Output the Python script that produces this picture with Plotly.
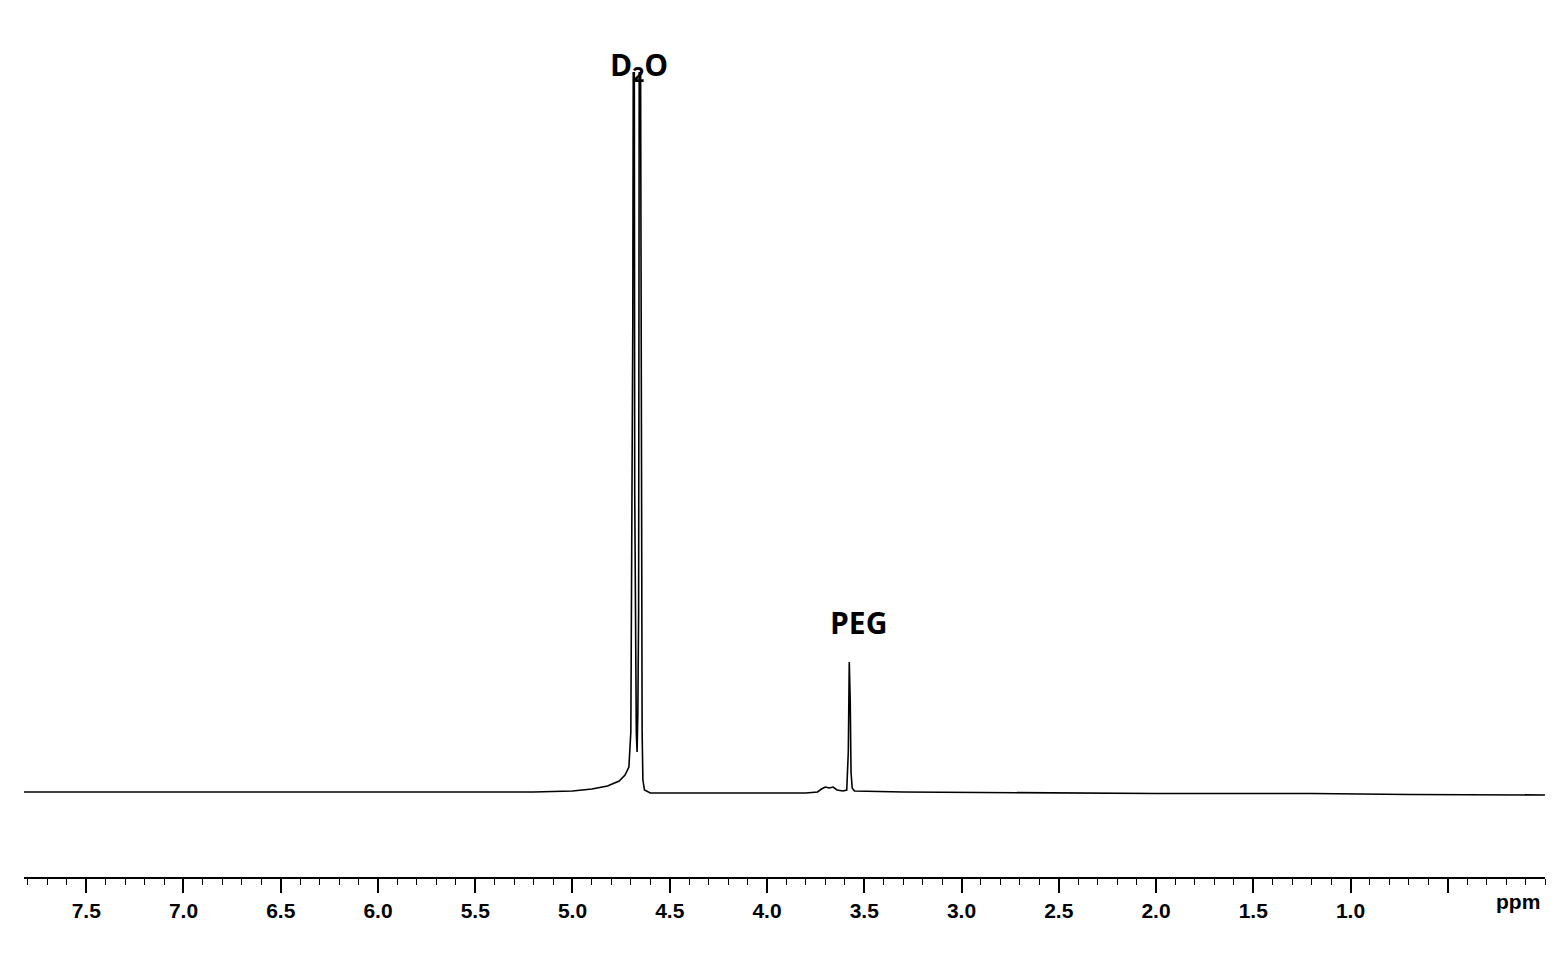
import plotly.graph_objects as go

ppm = [7.82, 7.0, 6.0, 5.2, 5.0, 4.9, 4.82, 4.76, 4.73, 4.71, 4.700, 4.697, 4.694, 4.690, 4.686, 4.683,
       4.680, 4.676, 4.672, 4.668, 4.664, 4.660, 4.656, 4.652, 4.648, 4.645, 4.642, 4.638, 4.63, 4.60,
       4.2, 3.80, 3.74, 3.72, 3.70, 3.68, 3.66, 3.64, 3.61, 3.59, 3.582, 3.577, 3.572, 3.568, 3.562, 3.55,
       3.3, 2.8, 2.5, 2.0, 1.2, 0.9, 0.7, 0.0]
intensity = [0, 0, 0, 0, 1, 3, 6, 11, 17, 25, 60, 180, 280, 470, 900, 900,
             300, 120, 60, 40, 80, 180, 900, 900, 450, 200, 60, 12, 2, -1,
             -1, -1, 0, 3, 5, 4, 5, 2, 1, 2, 40, 130, 90, 20, 4, 1,
             0, -0.5, -1, -1.5, -1.5, -2.5, -2.5, -3]

tick_vals = [7.5, 7.0, 6.5, 6.0, 5.5, 5.0, 4.5, 4.0, 3.5, 3.0, 2.5, 2.0, 1.5, 1.0, 0.5]
tick_text = ["7.5", "7.0", "6.5", "6.0", "5.5", "5.0", "4.5", "4.0", "3.5", "3.0", "2.5", "2.0", "1.5", "1.0", ""]

fig = go.Figure(go.Scatter(x=ppm, y=intensity, mode="lines",
                           line=dict(color="black", width=1.6), hoverinfo="skip"))

font_b = "Liberation Sans"
fig.update_layout(
    width=1566, height=957, plot_bgcolor="white", paper_bgcolor="white",
    margin=dict(l=16, r=29, t=64, b=88), showlegend=False,
    xaxis=dict(range=[7.82, 0.0], showgrid=False, zeroline=False, showline=True,
               linecolor="black", linewidth=2, ticks="outside", ticklen=14,
               tickwidth=1.5, tickcolor="black", tickvals=tick_vals, ticktext=tick_text,
               tickfont=dict(family=font_b, size=21, color="black", weight="bold"),
               minor=dict(dtick=0.1, tick0=0.0, ticks="outside", ticklen=6, tickcolor="black", tickwidth=1)),
    yaxis=dict(range=[-85, 720], visible=False),
    annotations=[
        dict(x=4.66, y=1.037, text="D<sub>2</sub>O", showarrow=False, xref="x", yref="paper",
             font=dict(family="Open Sans", size=30, color="black", weight="bold")),
        dict(x=3.53, y=170, text="PEG", showarrow=False, xref="x", yref="y",
             font=dict(family="Open Sans", size=30, color="black", weight="bold")),
        dict(x=0.14, y=-0.047, text="ppm", showarrow=False, xref="x", yref="paper",
             font=dict(family=font_b, size=21, color="black", weight="bold")),
    ],
)
fig.write_html("out.html")
